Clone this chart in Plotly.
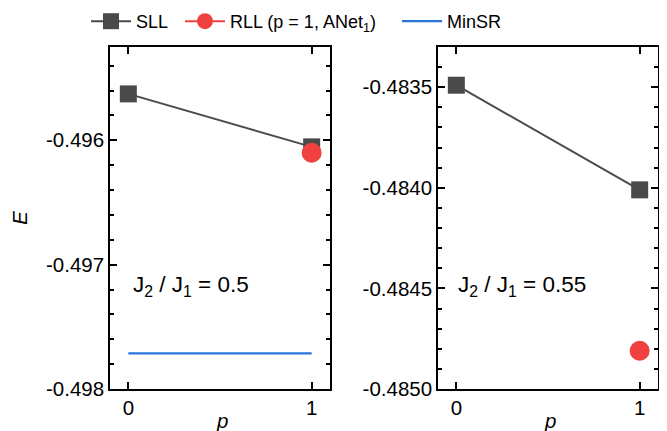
import plotly.graph_objects as go

p_vals = [0, 1]
sll_a = [-0.495627, -0.496053]
rll_a = [-0.49610]
minsr_a = [-0.497713, -0.497713]
sll_b = [-0.48349, -0.48401]
rll_b = [-0.48481]
rll_p = [1]
labels = ["J<sub>2</sub> / J<sub>1</sub> = 0.5", "J<sub>2</sub> / J<sub>1</sub> = 0.55"]
ytick_a = [-0.498, -0.497, -0.496]
ytext_a = ["-0.498", "-0.497", "-0.496"]
ytick_b = [-0.4850, -0.4845, -0.4840, -0.4835]
ytext_b = ["-0.4850", "-0.4845", "-0.4840", "-0.4835"]

GRAY = "#4a4a4a"
RED = "#f04040"
BLUE = "#2a76dc"
FONT = "Liberation Sans, Arial, sans-serif"
TF = 20.5

# page body adds an 8px offset; lay out in window pixels
OFF = 8
W, H = 667 - OFF, 431 - OFF


def fx(px):
    return (px - OFF) / W


def fy(py):
    return 1 - (py - OFF) / H


fig = go.Figure()
fig.add_trace(go.Scatter(x=p_vals, y=sll_a, mode="lines+markers", name="SLL",
                         line=dict(color=GRAY, width=2),
                         marker=dict(symbol="square", size=17, color=GRAY),
                         xaxis="x", yaxis="y", legend="legend"))
fig.add_trace(go.Scatter(x=rll_p, y=rll_a, mode="lines+markers", name="RLL (p = 1, ANet<sub>1</sub>)",
                         line=dict(color=RED, width=2),
                         marker=dict(symbol="circle", size=20, color=RED),
                         xaxis="x", yaxis="y", legend="legend2"))
fig.add_trace(go.Scatter(x=p_vals, y=minsr_a, mode="lines", name="MinSR",
                         line=dict(color=BLUE, width=2.2),
                         xaxis="x", yaxis="y", legend="legend3"))
fig.add_trace(go.Scatter(x=p_vals, y=sll_b, mode="lines+markers", name="SLL",
                         line=dict(color=GRAY, width=2),
                         marker=dict(symbol="square", size=17, color=GRAY),
                         xaxis="x2", yaxis="y2", showlegend=False))
fig.add_trace(go.Scatter(x=rll_p, y=rll_b, mode="markers", name="RLL",
                         marker=dict(symbol="circle", size=20, color=RED),
                         xaxis="x2", yaxis="y2", showlegend=False))

axis_common = dict(showline=True, linecolor="black", linewidth=1.6, mirror="allticks",
                   ticks="inside", ticklen=7, tickwidth=1.5, tickcolor="black",
                   showgrid=False, zeroline=False, automargin=False,
                   tickfont=dict(family=FONT, size=TF, color="black"))

leg_common = dict(orientation="h", xanchor="left", y=fy(3), yanchor="top",
                  font=dict(family=FONT, size=18, color="black"),
                  itemwidth=40, bgcolor="rgba(0,0,0,0)")

fig.update_layout(
    width=W, height=H,
    margin=dict(l=0, r=0, t=0, b=0, autoexpand=False),
    paper_bgcolor="white", plot_bgcolor="white",
    font=dict(family=FONT, size=18, color="black"),
    showlegend=True,
    legend=dict(leg_common, x=fx(86)),
    legend2=dict(leg_common, x=fx(180)),
    legend3=dict(leg_common, x=fx(397)),
    xaxis=dict(axis_common, domain=[fx(110), fx(330)], range=[-0.1, 1.1], tickvals=[0, 1],
               anchor="y"),
    yaxis=dict(axis_common, domain=[fy(389), fy(47)], range=[-0.498, -0.49525],
               tickvals=ytick_a, ticktext=ytext_a, anchor="x",
               minor=dict(dtick=0.0002, ticks="inside", ticklen=4, tickwidth=1.5, tickcolor="black"),
               title=dict(text="<i>E</i>", standoff=16, font=dict(family=FONT, size=TF))),
    xaxis2=dict(axis_common, domain=[fx(438), fx(658)], range=[-0.1, 1.1], tickvals=[0, 1],
                anchor="y2"),
    yaxis2=dict(axis_common, domain=[fy(389), fy(47)], range=[-0.4850, -0.4833],
                tickvals=ytick_b, ticktext=ytext_b, anchor="x2",
                minor=dict(dtick=0.0001, ticks="inside", ticklen=4, tickwidth=1.5, tickcolor="black")),
    annotations=[
        dict(text=labels[0], x=0.015, y=-0.497173, xref="x", yref="y", xanchor="left",
             yanchor="middle", showarrow=False, font=dict(family=FONT, size=22.5)),
        dict(text=labels[1], x=0.0, y=-0.484487, xref="x2", yref="y2", xanchor="left",
             yanchor="middle", showarrow=False, font=dict(family=FONT, size=22.5)),
        dict(text="<i>p</i>", x=0.51, xref="x domain", y=fy(420), yref="paper",
             xanchor="center", yanchor="middle", showarrow=False,
             font=dict(family=FONT, size=TF)),
        dict(text="<i>p</i>", x=0.51, xref="x2 domain", y=fy(420), yref="paper",
             xanchor="center", yanchor="middle", showarrow=False,
             font=dict(family=FONT, size=TF)),
    ],
)

fig.write_html("out.html")
